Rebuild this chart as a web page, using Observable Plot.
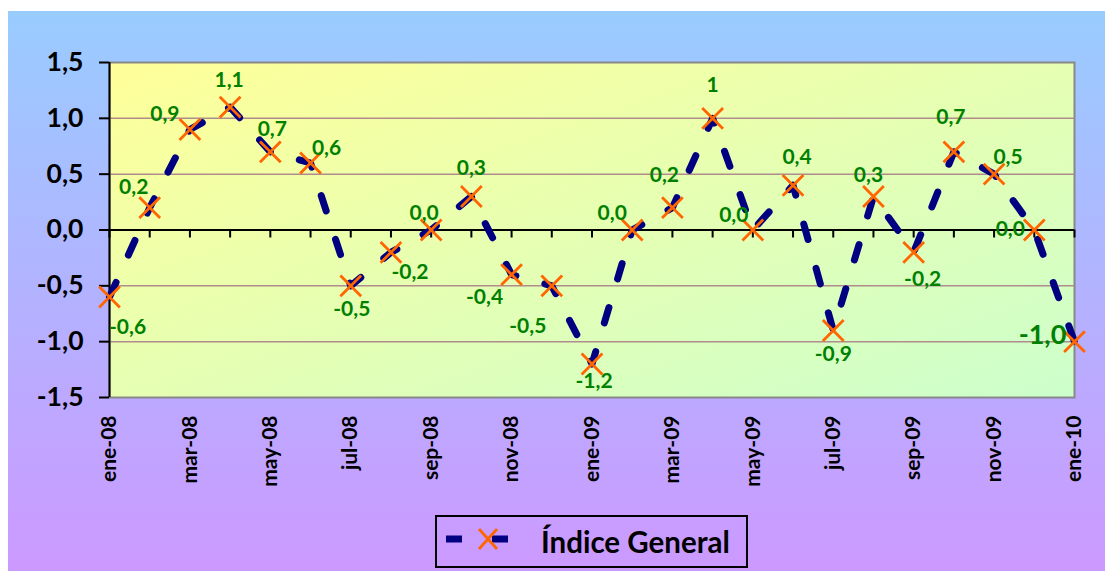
<!DOCTYPE html>
<html><head><meta charset="utf-8">
<script src="https://cdn.jsdelivr.net/npm/d3@7"></script>
<script src="https://cdn.jsdelivr.net/npm/@observablehq/plot@0.6"></script>
<style>
body{margin:0;background:#fff;width:1105px;height:571px;overflow:hidden;font-family:Lato,"Open Sans",sans-serif;}
#bg{position:absolute;left:8px;top:11px;width:1097px;height:560px;background:linear-gradient(to bottom,#99ccff,#cc99ff);}
#chart{position:absolute;left:0;top:0;}
#legend{position:absolute;left:427px;top:504px;width:309px;height:49px;border:2px solid #000;display:flex;align-items:center;}
#legend span{font-size:29.5px;font-weight:bold;color:#000;margin-left:4px;}
</style></head><body>
<div id="bg"><div id="chart"></div>
<div id="legend"><svg width="100" height="49"><line x1="9" x2="71" y1="22" y2="22" stroke="#000080" stroke-width="7" stroke-dasharray="16,30"/><path d="M42,12L60,32M60,12L42,32" stroke="#ff6600" stroke-width="2.8" fill="none"/></svg><span>Índice General</span></div>
</div>
<script>
const months = ["ene-08","feb-08","mar-08","abr-08","may-08","jun-08","jul-08","ago-08","sep-08","oct-08","nov-08","dic-08","ene-09","feb-09","mar-09","abr-09","may-09","jun-09","jul-09","ago-09","sep-09","oct-09","nov-09","dic-09","ene-10"];
const values = [-0.6,0.2,0.9,1.1,0.7,0.6,-0.5,-0.2,0.0,0.3,-0.4,-0.5,-1.2,0.0,0.2,1.0,0.0,0.4,-0.9,0.3,-0.2,0.7,0.5,0.0,-1.0];
const valueLabels = ["-0,6","0,2","0,9","1,1","0,7","0,6","-0,5","-0,2","0,0","0,3","-0,4","-0,5","-1,2","0,0","0,2","1","0,0","0,4","-0,9","0,3","-0,2","0,7","0,5","0,0","-1,0"];
const yTicks = [-1.5,-1.0,-0.5,0.0,0.5,1.0,1.5];
const seriesName = "Índice General";

// label placement (offset in px from each point)
const labelOffsets = [[18,30],[-16,-20],[-25,-15],[-1,-27],[2,-23],[16,-15],[1,23],[19,20],[-7,-17],[0,-28],[-27,23],[-24,40],[2,17],[-20,-17],[-8,-32],[0,-33],[-19,-15],[4,-28],[0,24],[-5,-21],[9,27],[-3,-35],[14,-17],[-24,-1],[-32,-6]];

const data = months.map((m,i)=>({i, m, v: values[i], label: valueLabels[i]}));
const evenIdx = data.filter(d=>d.i%2===0).map(d=>d.i);
const fmt = d => d.toFixed(1).replace(".",",");

const labelMarks = data.map((d,k)=>Plot.text([d],{x:"i",y:"v",text:"label",dx:labelOffsets[k][0],dy:labelOffsets[k][1],
  fill:"#008000",fontWeight:"bold",fontSize: k===data.length-1?27:21}));

const chart = Plot.plot({
  width:1097, height:470,
  marginLeft:101, marginRight:31, marginTop:51, marginBottom:84,
  style:{background:"transparent",overflow:"visible",fontFamily:"Lato, 'Open Sans', sans-serif",color:"#000"},
  x:{domain:[0,months.length-1]},
  y:{domain:[-1.5,1.5]},
  marks:[
    Plot.frame({fill:"url(#pa)",stroke:"#888888",strokeWidth:2}),
    Plot.ruleY(yTicks.filter(t=>t!==0 && Math.abs(t)!==1.5),{stroke:"#b08c8c",strokeWidth:1.5}),
    Plot.ruleY([0],{stroke:"#000",strokeWidth:2}),
    Plot.ruleX(data,{x:"i",y1:0,y2:0,insetBottom:-8,stroke:"#000",strokeWidth:2}),
    Plot.ruleX([0],{stroke:"#000",strokeWidth:2}),
    Plot.axisY({ticks:yTicks,tickFormat:fmt,tickSize:10,tickPadding:16,fontSize:26.5,fontWeight:"bold",strokeWidth:2,label:null}),
    Plot.axisX({ticks:evenIdx,tickFormat:i=>months[i],tickRotate:-90,tickSize:0,tickPadding:18,fontSize:21,fontWeight:"bold",label:null}),
    Plot.line(data,{x:"i",y:"v",stroke:"#000080",strokeWidth:7,strokeDasharray:"16,30"}),
    Plot.dot(data,{x:"i",y:"v",symbol:"times",r:9.5,stroke:"#ff6600",strokeWidth:2.8}),
    ...labelMarks
  ]
});
document.getElementById("chart").appendChild(chart);
const svg = d3.select(chart);
const defs = svg.insert("defs",":first-child");
const g = defs.append("linearGradient").attr("id","pa").attr("x1",0).attr("y1",0).attr("x2",1).attr("y2",1);
g.append("stop").attr("offset","0%").attr("stop-color","#ffff99");
g.append("stop").attr("offset","100%").attr("stop-color","#ccffcc");
</script>
</body></html>
